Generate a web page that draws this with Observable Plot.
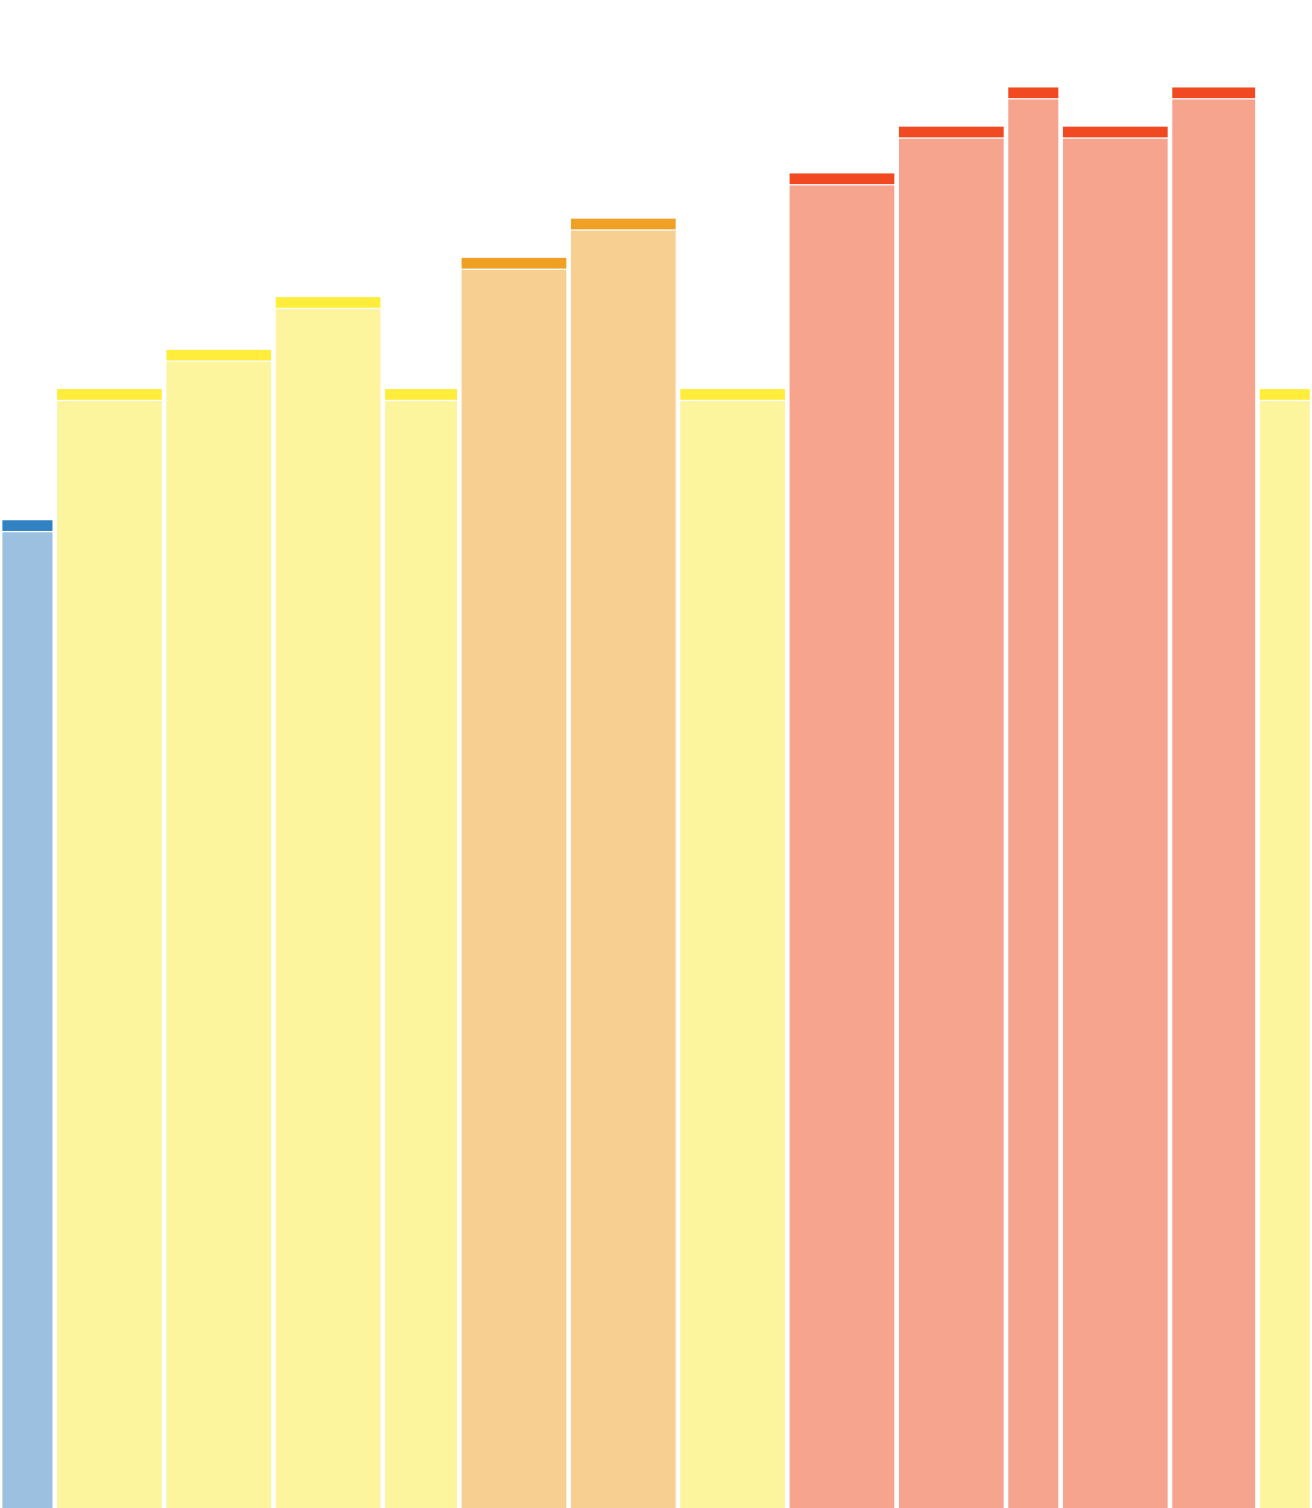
<!DOCTYPE html>
<html>
<head>
<meta charset="utf-8">
<script src="https://cdn.jsdelivr.net/npm/d3@7"></script>
<script src="https://cdn.jsdelivr.net/npm/@observablehq/plot@0.6"></script>
<style>
  html, body { margin: 0; padding: 0; background: #fff; }
  #chart svg { display: block; }
</style>
</head>
<body>
<div id="chart"></div>
<script>
// Interval starts and ends (x units)
const starts = [0, 0.5, 1.5, 2.5, 3.5, 4.2, 5.2, 6.2, 7.2, 8.2, 9.2, 9.7, 10.7, 11.5];
const ends   = [0.5, 1.5, 2.5, 3.5, 4.2, 5.2, 6.2, 7.2, 8.2, 9.2, 9.7, 10.7, 11.5, 12.0];
// Bar values
const values = [65.5, 74.2, 76.8, 80.3, 74.2, 82.9, 85.5, 74.2, 88.5, 91.6, 94.2, 91.6, 94.2, 74.2];
// Category of each bar
const categories = ["cool", "caution", "caution", "caution", "caution", "extreme", "extreme",
                    "caution", "danger", "danger", "danger", "danger", "danger", "caution"];

const catNames = ["cool", "caution", "extreme", "danger"];
const darkColors = ["#3182c2", "#feed3b", "#f0a024", "#f14a22"];
const lightColors = ["#9bc0e0", "#fdf59e", "#f6cf91", "#f7a48f"];

const data = values.map((v, i) => ({
  x1: starts[i], x2: ends[i], value: v, cat: categories[i]
}));

const darkOf = Object.fromEntries(catNames.map((c, i) => [c, darkColors[i]]));
const lightOf = Object.fromEntries(catNames.map((c, i) => [c, lightColors[i]]));

const chart = Plot.plot({
  width: 1312,
  height: 1508,
  marginTop: 0,
  marginBottom: 0,
  marginLeft: 0,
  marginRight: 0,
  x: { domain: [0, 12], axis: null },
  y: { domain: [0, 100], axis: null },
  marks: [
    Plot.rect(data, {
      x1: "x1", x2: "x2", y1: 0, y2: "value",
      fill: d => lightOf[d.cat],
      insetLeft: 2.4, insetRight: 2.2, insetTop: 12
    }),
    Plot.rect(data, {
      x1: "x1", x2: "x2", y1: "value", y2: "value",
      fill: d => darkOf[d.cat],
      insetLeft: 2.4, insetRight: 2.2, insetBottom: -10.7
    })
  ]
});
document.getElementById("chart").appendChild(chart);
</script>
</body>
</html>
